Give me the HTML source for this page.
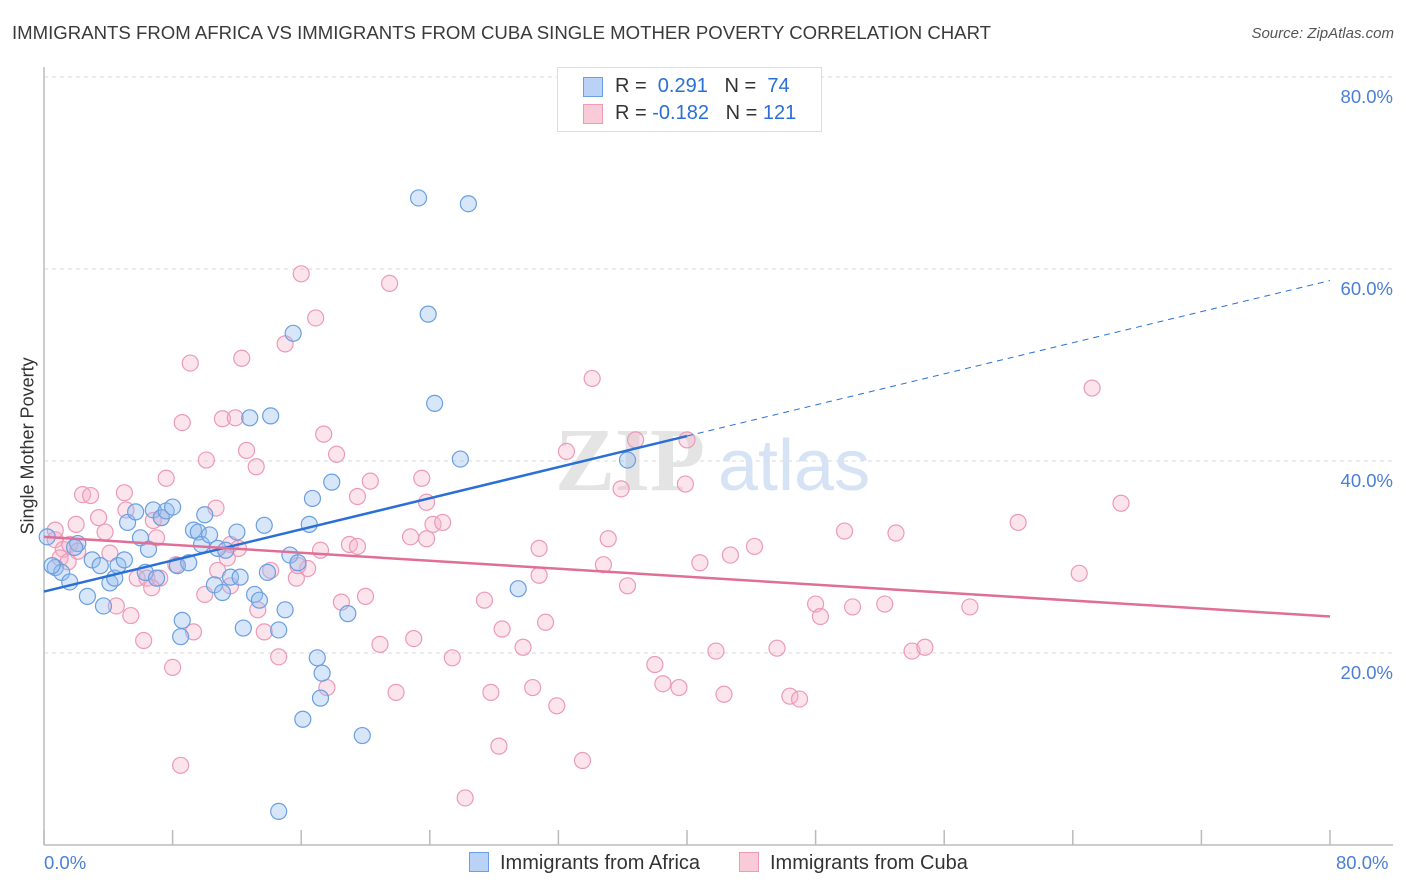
<!DOCTYPE html>
<html><head><meta charset="utf-8">
<style>
body{margin:0;background:#fff;font-family:"Liberation Sans",sans-serif;}
#wrap{position:relative;width:1406px;height:892px;overflow:hidden;}
.t{position:absolute;white-space:nowrap;}
</style></head>
<body>
<div id="wrap">
<div class="t" style="left:12px;top:22px;font-size:18.6px;color:#3a3a3a;">IMMIGRANTS FROM AFRICA VS IMMIGRANTS FROM CUBA SINGLE MOTHER POVERTY CORRELATION CHART</div>
<div class="t" style="right:12px;top:25px;font-size:15px;color:#555;font-style:italic;">Source: ZipAtlas.com</div>
<svg id="plot" width="1406" height="892" style="position:absolute;left:0;top:0"></svg>
</div>
<script>
const africaX=[23.3,26.4,23.9,15.5,24.3,25.9,36.3,12.8,14.1,17.9,16.7,16.5,29.5,0.2,0.7,1.1,1.6,2.1,1.9,3.0,3.5,4.1,4.4,3.7,2.7,4.6,5.0,5.2,5.7,6.0,6.5,6.3,7.0,6.8,7.3,7.6,8.0,8.3,9.0,8.6,8.5,9.3,9.6,10.0,9.8,10.3,10.8,11.3,10.6,11.1,11.6,12.2,12.0,12.4,13.1,13.4,13.7,13.9,14.6,15.0,15.3,15.8,17.0,17.3,17.2,16.1,18.9,19.8,14.6,0.5];
const africaY=[67.4,66.8,55.3,53.3,46.0,40.2,40.1,44.5,44.7,37.8,36.1,33.4,26.7,32.1,28.9,28.4,27.4,31.4,31.0,29.7,29.1,27.3,27.8,24.9,25.9,29.1,29.7,33.6,34.7,32.0,30.8,28.4,27.8,34.9,34.1,34.8,35.2,29.1,29.4,23.4,21.7,32.8,32.6,34.4,31.3,32.3,30.9,30.7,27.1,26.3,27.9,27.9,32.6,22.6,26.1,25.5,33.3,28.4,22.4,24.5,30.2,29.4,19.5,17.9,15.3,13.1,24.1,11.4,3.5,29.1];
const cubaX=[16.0,21.5,16.9,12.3,9.1,15.0,34.1,65.2,8.6,11.1,11.9,12.6,17.4,18.2,10.1,13.2,7.6,23.5,20.3,40.0,36.8,32.5,35.9,39.9,23.8,19.5,67.0,60.6,2.4,2.9,5.0,3.4,2.0,3.8,5.1,6.8,7.3,10.7,0.7,1.2,1.6,2.1,0.7,1.0,1.5,4.1,7.0,11.6,12.1,11.4,22.8,23.8,24.2,24.8,19.0,19.5,30.8,35.1,44.2,42.7,49.8,53.0,40.8,34.8,17.2,16.4,15.7,30.8,36.3,5.8,6.4,7.2,6.7,8.2,10.8,11.6,10.0,15.8,14.1,4.5,5.4,6.2,9.3,13.3,13.7,18.5,20.0,27.4,28.5,31.2,48.0,48.3,50.3,52.3,57.6,20.9,23.0,29.8,41.8,45.6,54.0,54.8,14.6,25.4,38.0,8.0,17.6,21.9,27.8,30.4,38.5,39.5,42.3,46.4,47.0,31.9,28.3,33.5,8.5,26.2,64.4];
const cubaY=[59.5,58.5,54.9,50.7,50.2,52.2,48.6,47.6,44.0,44.4,44.5,41.1,42.8,40.7,40.1,39.4,38.2,38.2,37.9,42.2,42.2,41.0,37.1,37.6,35.7,36.3,35.6,33.6,36.5,36.4,36.7,34.1,33.4,32.6,34.9,33.8,34.1,35.1,31.8,30.8,31.3,30.6,32.8,29.9,29.5,30.4,32.0,31.3,30.9,29.9,32.1,31.9,33.4,33.6,31.3,31.1,30.9,31.9,31.1,30.2,32.7,32.5,29.4,29.2,30.7,28.8,27.8,28.1,27.0,27.8,27.8,27.8,26.8,29.2,28.6,27.0,26.1,29.1,28.6,24.9,23.9,21.3,22.2,24.5,22.2,25.3,25.9,25.5,22.5,23.2,25.1,23.8,24.8,25.1,24.8,20.9,21.5,20.6,20.2,20.5,20.2,20.6,19.6,19.5,18.8,18.5,16.4,15.9,15.9,16.4,16.8,16.4,15.7,15.5,15.2,14.5,10.3,8.8,8.3,4.9,28.3];
const africaTrend=[26.4,58.8]; // value at x=0, x=80
const cubaTrend=[32.1,23.8];
const yTicks=[20,40,60,80];
const yTickLabels=["20.0%","40.0%","60.0%","80.0%"];
const xTicks=[0,8,16,24,32,40,48,56,64,72,80];

const NS="http://www.w3.org/2000/svg";
const svg=document.getElementById('plot');
const X=v=>44+v*16.075;
const Y=v=>845-v*9.6;
function mk(tag,attrs,parent){const e=document.createElementNS(NS,tag);for(const k in attrs)e.setAttribute(k,attrs[k]);(parent||svg).appendChild(e);return e;}

yTicks.forEach((t,i)=>{
  const g=mk('line',{x1:44,x2:1393,y1:Y(t),y2:Y(t),stroke:'#d8d8d8','stroke-dasharray':'4,4','stroke-width':1});
  
  
  const tx=mk('text',{x:1393,y:Y(t)+26,'text-anchor':'end','font-size':18.5,fill:'#4a7fd6','font-family':'Liberation Sans, sans-serif'});
  tx.textContent=yTickLabels[i];
  
  
});
const ya=mk('line',{x1:44,x2:44,y1:67,y2:845,stroke:'#bbb','stroke-width':1.5});


const xa=mk('line',{x1:44,x2:1393,y1:845,y2:845,stroke:'#bbb','stroke-width':1.5});


xTicks.forEach(t=>{
  const l=mk('line',{x1:X(t),x2:X(t),y1:830,y2:845,stroke:'#bbb','stroke-width':1.5});
  
  
});
const wm=mk('text',{x:555,y:490,'font-size':90,fill:'#e4e4e4','font-family':'Liberation Serif, serif','font-weight':'bold'});
wm.textContent='ZIP';


const wm2=mk('text',{x:718,y:490,'font-size':72,fill:'#d6e3f5','font-family':'Liberation Sans, sans-serif'});
wm2.textContent='atlas';



function pts(xs,ys,fill,stroke,name){
  xs.forEach((x,i)=>{
    const c=mk('circle',{cx:X(x),cy:Y(ys[i]),r:8,fill:fill,stroke:stroke,'stroke-width':1.2});
    
    
  });
}
pts(cubaX,cubaY,'rgba(246,178,200,0.35)','#ec9ab5','cuba-point');
pts(africaX,africaY,'rgba(150,190,240,0.38)','#6a9fe0','africa-point');

const at=v=>africaTrend[0]+(africaTrend[1]-africaTrend[0])*v/80;
const ct=v=>cubaTrend[0]+(cubaTrend[1]-cubaTrend[0])*v/80;
const l1=mk('line',{x1:X(0),y1:Y(at(0)),x2:X(40),y2:Y(at(40)),stroke:'#2a6fd6','stroke-width':2.5});


const l2=mk('line',{x1:X(40),y1:Y(at(40)),x2:X(80),y2:Y(at(80)),stroke:'#2a6fd6','stroke-width':1,'stroke-dasharray':'6,5'});


const l3=mk('line',{x1:X(0),y1:Y(ct(0)),x2:X(80),y2:Y(ct(80)),stroke:'#e06f98','stroke-width':2.5});


</script>
<div class="t" style="left:-52px;top:444px;font-size:18px;color:#333;transform:rotate(-90deg);transform-origin:center;width:160px;text-align:center;">Single Mother Poverty</div>
<div class="t" style="left:44px;top:852px;font-size:18.5px;color:#4a7fd6;">0.0%</div>
<div class="t" style="left:1336px;top:852px;font-size:18.5px;color:#4a7fd6;">80.0%</div>
<div style="position:absolute;left:557px;top:67px;width:263px;height:63px;border:1px solid #ddd;background:#fff;font-size:20px;">
 <div style="position:absolute;left:25px;top:9px;width:18px;height:18px;background:#b9d2f5;border:1px solid #6a9fe0;"></div>
 <div class="t" style="left:57px;top:7px;color:#333;">R = <span style="color:#2a6fd6">&nbsp;0.291</span>&nbsp;&nbsp;&nbsp;N = <span style="color:#2a6fd6">&nbsp;74</span></div>
 <div style="position:absolute;left:25px;top:36px;width:18px;height:18px;background:#f9cbd9;border:1px solid #ec9ab5;"></div>
 <div class="t" style="left:57px;top:34px;color:#333;">R = <span style="color:#2a6fd6">-0.182</span>&nbsp;&nbsp;&nbsp;N = <span style="color:#2a6fd6">121</span></div>
</div>
<div style="position:absolute;left:469px;top:852px;font-size:20px;color:#333;">
 <span style="display:inline-block;width:18px;height:18px;background:#b9d2f5;border:1px solid #6a9fe0;vertical-align:-3px;margin-right:11px;"></span>Immigrants from Africa</div>
<div style="position:absolute;left:739px;top:852px;font-size:20px;color:#333;">
 <span style="display:inline-block;width:18px;height:18px;background:#f9cbd9;border:1px solid #ec9ab5;vertical-align:-3px;margin-right:11px;"></span>Immigrants from Cuba</div>
</body></html>
